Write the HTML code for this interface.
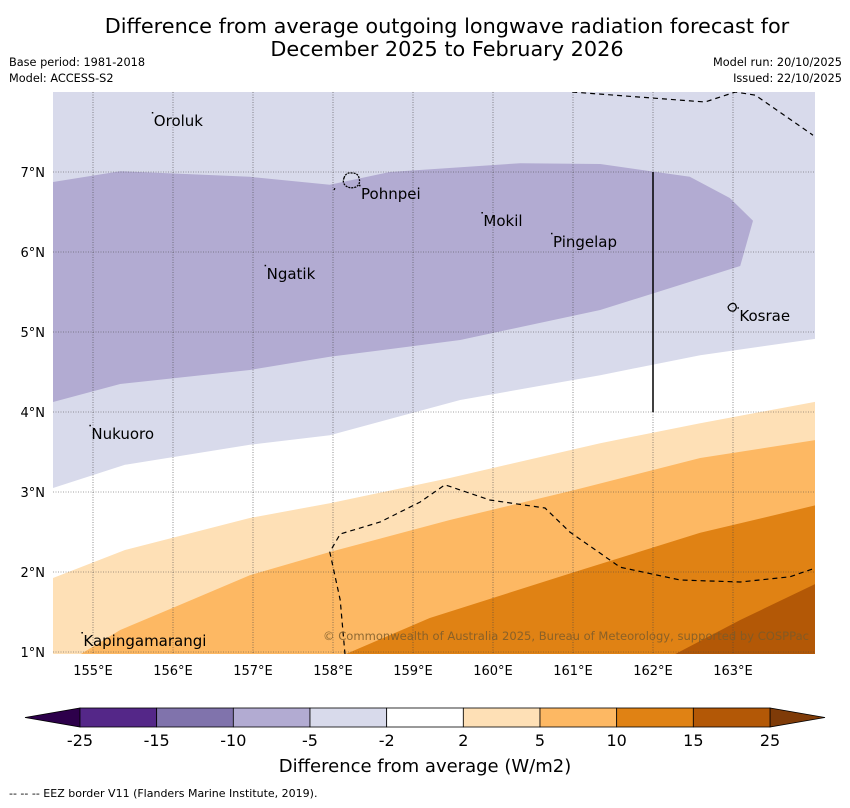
<!DOCTYPE html>
<html><head><meta charset="utf-8"><style>
body{margin:0;background:#fff;width:850px;height:804px;overflow:hidden;font-family:"DejaVu Sans","Liberation Sans",sans-serif}
</style></head><body>
<svg width="850" height="804" xmlns="http://www.w3.org/2000/svg" font-family="DejaVu Sans, Liberation Sans, sans-serif">
<text x="447" y="33" font-size="20.8" text-anchor="middle">Difference from average outgoing longwave radiation forecast for</text>
<text x="447" y="56" font-size="20.8" text-anchor="middle">December 2025 to February 2026</text>
<text x="9" y="66" font-size="11.3">Base period: 1981-2018</text>
<text x="9" y="82" font-size="11.3">Model: ACCESS-S2</text>
<text x="842" y="66" font-size="11.3" text-anchor="end">Model run: 20/10/2025</text>
<text x="842" y="82" font-size="11.3" text-anchor="end">Issued: 22/10/2025</text>
<defs><clipPath id="mc"><rect x="53" y="92" width="762" height="562"/></clipPath></defs>
<g id="map" clip-path="url(#mc)"></g>
<g id="axes"></g>
<g id="cbar"></g>
<text x="425" y="772" font-size="18" text-anchor="middle">Difference from average (W/m2)</text>
<text x="9" y="797" font-size="11">--  --  -- EEZ border V11 (Flanders Marine Institute, 2019).</text>
</svg>
<script>
const lonTicks=[155,156,157,158,159,160,161,162,163];
const latTicks=[1,2,3,4,5,6,7];
const levels=["-25","-15","-10","-5","-2","2","5","10","15","25"];
const colors=["#542788","#8073ac","#b2abd2","#d8daeb","#ffffff","#fee0b6","#fdb863","#e08214","#b35806"];
const purpleBand=[[154.5,6.875],[155.34,7.01],[156.96,6.94],[157.96,6.84],[158.71,7.0],[160.34,7.11],[161.34,7.1],[162.46,6.94],[162.96,6.675],[163.25,6.39],[163.09,5.825],[161.34,5.275],[159.59,4.9],[157.96,4.69],[156.96,4.525],[155.34,4.35],[154.5,4.125]];
const whiteTop=[[154.5,3.05],[155.4,3.34],[156.96,3.59],[157.96,3.71],[159.59,4.15],[161.34,4.46],[162.59,4.71],[164.1,4.925]];
const lightOrangeTop=[[154.5,1.925],[155.4,2.275],[156.96,2.675],[157.96,2.86],[159.46,3.175],[161.34,3.61],[162.59,3.86],[164.1,4.14]];
const orangeTop=[[154.84,0.97],[155.34,1.275],[156.09,1.59],[156.96,1.96],[157.96,2.25],[159.46,2.65],[161.02,3.025],[162.59,3.425],[164.1,3.66]];
const darkOrangeTop=[[158.15,0.97],[159.21,1.425],[161.02,2.0],[162.59,2.49],[164.1,2.85]];
const darkestTop=[[162.27,0.97],[163.09,1.4],[164.05,1.86]];
const eezA=[[160.99,8.0],[162.65,7.875],[163.03,8.0],[163.28,7.96],[164.0,7.46]];
const eezB=[[158.15,0.97],[158.09,1.65],[157.96,2.25],[158.09,2.475],[158.59,2.625],[159.09,2.875],[159.4,3.09],[159.96,2.9],[160.65,2.8],[160.96,2.5],[161.59,2.06],[162.34,1.9],[163.09,1.875],[163.71,1.94],[164.0,2.04]];
const places=[["Oroluk",155.76,7.65],["Pohnpei",158.35,6.74],["Mokil",159.88,6.4],["Pingelap",160.75,6.14],["Ngatik",157.17,5.74],["Kosrae",163.08,5.21],["Nukuoro",154.98,3.74],["Kapingamarangi",154.88,1.15]];
const X=l=>53+(l-154.5)*80, Y=a=>652-(a-1)*80;
const NS="http://www.w3.org/2000/svg";
function mk(p,t,a){const e=document.createElementNS(NS,t);for(const k in a)e.setAttribute(k,a[k]);p.appendChild(e);return e;}
const map=document.getElementById('map');
let r=mk(map,'rect',{x:53,y:92,width:762,height:562,fill:colors[3]});


function band(top,fill,name){const pts=top.map(p=>X(p[0])+','+Y(p[1]));pts.push('830,670','40,670');
 const e=mk(map,'polygon',{points:pts.join(' '),fill:fill});
 
 }
const pp=mk(map,'polygon',{points:purpleBand.map(p=>X(p[0])+','+Y(p[1])).join(' '),fill:colors[2]});


band(whiteTop,colors[4],'contour-near-average');
band(lightOrangeTop,colors[5],'contour-2-to-5');
band(orangeTop,colors[6],'contour-5-to-10');
band(darkOrangeTop,colors[7],'contour-10-to-15');
band(darkestTop,colors[8],'contour-15-to-25');
const ax=document.getElementById('axes');
lonTicks.forEach(l=>{const e=mk(map,'line',{x1:X(l),x2:X(l),y1:92,y2:654,stroke:'#444','stroke-width':0.6,'stroke-dasharray':'1,1.5'});
 
 
 const t=mk(ax,'text',{x:X(l),y:675,'font-size':13,'text-anchor':'middle'});t.textContent=l+'°E';
 
 });
latTicks.forEach(a=>{const e=mk(map,'line',{x1:53,x2:815,y1:Y(a),y2:Y(a),stroke:'#444','stroke-width':0.6,'stroke-dasharray':'1,1.5'});
 
 
 const t=mk(ax,'text',{x:45,y:Y(a)+5,'font-size':13,'text-anchor':'end'});t.textContent=a+'°N';
 
 });
const vl=mk(map,'line',{x1:X(162),x2:X(162),y1:Y(7),y2:Y(4),stroke:'#000','stroke-width':1.5});


[eezA,eezB].forEach(s=>{const e=mk(map,'polyline',{points:s.map(p=>X(p[0])+','+Y(p[1])).join(' '),fill:'none',stroke:'#000','stroke-width':1.2,'stroke-dasharray':'5,4'});
 
 });
const isl1=mk(map,'path',{d:'M344,178 q2,-6 8,-5 q6,0 7,5 q2,6 -3,9 q-6,2 -10,-1 q-4,-3 -2,-8z M334,190 l1,-2',fill:'none',stroke:'#000','stroke-width':1.3,'stroke-dasharray':'2,1'});


const isl2=mk(map,'path',{d:'M728,307 q3,-5 7,-3 q3,4 -1,7 q-5,1 -6,-4z',fill:'none',stroke:'#000','stroke-width':1.2});


places.forEach(p=>{const t=mk(map,'text',{x:X(p[1]),y:Y(p[2])+6,'font-size':15});t.textContent=p[0];
 
 
 const d=mk(map,'rect',{x:X(p[1])-2,y:Y(p[2])-8,width:1.5,height:1.5,fill:'#000'});
 
 });
const cr=mk(map,'text',{x:323,y:640,'font-size':11.6,fill:'#7a5a2a','fill-opacity':0.85,textLength:486,lengthAdjust:'spacingAndGlyphs'});cr.textContent='© Commonwealth of Australia 2025, Bureau of Meteorology, supported by COSPPac';


const cb=document.getElementById('cbar');
const cbX=i=>80+i*(690/9);
const tl=mk(cb,'polygon',{points:'80,708 80,727 25,717.5',fill:'#2d004b',stroke:'#000','stroke-width':0.8});


const tr=mk(cb,'polygon',{points:'770,708 770,727 825,717.5',fill:'#7f3b08',stroke:'#000','stroke-width':0.8});


colors.forEach((c,i)=>{const e=mk(cb,'rect',{x:cbX(i),y:708,width:690/9,height:19,fill:c,stroke:'#000','stroke-width':0.8});
 
 });
levels.forEach((l,i)=>{const t=mk(cb,'text',{x:cbX(i),y:746,'font-size':16,'text-anchor':'middle'});t.textContent=l;
 
 });
</script>
</body></html>
